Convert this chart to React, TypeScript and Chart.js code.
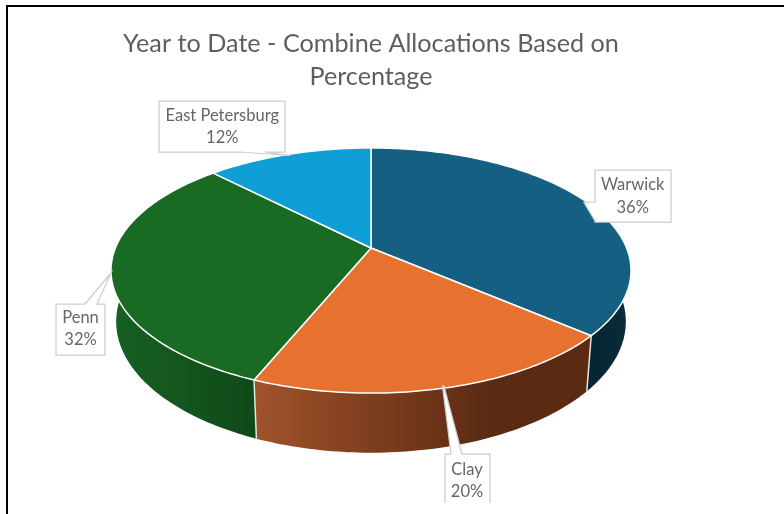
import React, { useEffect, useRef } from "react";
import { Chart, registerables } from "chart.js";

Chart.register(...registerables);

// ---- data ----
const titleLines = ["Year to Date - Combine Allocations Based on", "Percentage"];
const categories = ["Warwick", "Clay", "Penn", "East Petersburg"];
const percentages = [36.3, 19.9, 31.5, 12.3];

// ---- styles ----
const topColors = ["#156082", "#E7722F", "#196B24", "#0F9ED5"];
const wallFills = [
  { x0: 580, x1: 630, from: "#07222F", to: "#0A2C3D" },
  { x0: 256, x1: 490, from: "#A0522A", to: "#5B2A13" },
  { x0: 113, x1: 256, from: "#176024", to: "#0F4A19" },
  { x0: 0, x1: 784, from: "#0A6A90", to: "#0A6A90" },
];
const labelShapes = [
  {
    closed: true,
    points: [[595, 170], [671, 170], [671, 222], [595, 222], [595, 221], [584, 202.5], [595, 202]],
    cx: 632.7, y1: 185, y2: 207.7,
  },
  {
    closed: false,
    points: [[445, 503], [445, 454], [451, 454], [442.5, 386], [444, 386], [462, 454], [490, 454], [490, 503]],
    cx: 467, y1: 469.5, y2: 491.5,
  },
  {
    closed: true,
    points: [[56, 304], [85, 304], [111, 273], [97, 304], [105, 304], [105, 355], [56, 355]],
    cx: 80.5, y1: 318, y2: 340,
  },
  {
    closed: true,
    points: [[159, 101], [285, 101], [285, 152], [265, 152], [290, 155.5], [240, 152], [159, 152]],
    cx: 222.3, y1: 116, y2: 138,
  },
];

// perspective used to lay the library's arc angles onto the tilted disc
const DISC_R = 255.6;
const DISC_A = 118.4;
const DISC_K = -0.1837;
const WALL_SX = 0.98;
const WALL_SY = 1.07;
const WALL_D = 49.5;

function discOffset(angle: number) {
  const phi = angle + Math.PI / 2;
  const x = Math.sin(phi);
  const y = -Math.cos(phi);
  const d = 1 + DISC_K * y;
  return { x: (DISC_R * x) / d, y: (DISC_A * y) / d };
}

function samples(start: number, end: number) {
  const n = Math.max(8, Math.ceil(((end - start) * 180) / Math.PI));
  const out: number[] = [];
  for (let i = 0; i <= n; i++) out.push(start + ((end - start) * i) / n);
  return out;
}

const pie3dPlugin = {
  id: "pie3d",
  beforeDatasetsDraw(chart: any) {
    const ctx = chart.ctx as CanvasRenderingContext2D;
    const arcs = chart.getDatasetMeta(0).data as any[];
    ctx.save();

    // outer frame
    ctx.fillStyle = "#000";
    ctx.fillRect(6, 5, 778, 2);
    ctx.fillRect(6, 5, 2, 509);

    // side walls
    arcs.forEach((arc, i) => {
      const { x: vx, y: vy, startAngle, endAngle } = arc;
      const angles = samples(startAngle, endAngle);
      ctx.beginPath();
      angles.forEach((a, k) => {
        const o = discOffset(a);
        if (k === 0) ctx.moveTo(vx + o.x, vy + o.y);
        else ctx.lineTo(vx + o.x, vy + o.y);
      });
      [...angles].reverse().forEach((a) => {
        const o = discOffset(a);
        ctx.lineTo(vx + o.x * WALL_SX, vy + o.y * WALL_SY + WALL_D);
      });
      ctx.closePath();
      const f = wallFills[i];
      const g = ctx.createLinearGradient(f.x0, 0, f.x1, 0);
      g.addColorStop(0, f.from);
      g.addColorStop(1, f.to);
      ctx.fillStyle = g;
      ctx.fill();
    });
    // seams between the walls
    arcs.forEach((arc) => {
      const o = discOffset(arc.startAngle);
      ctx.beginPath();
      ctx.moveTo(arc.x + o.x, arc.y + o.y);
      ctx.lineTo(arc.x + o.x * WALL_SX, arc.y + o.y * WALL_SY + WALL_D);
      ctx.strokeStyle = "#E4E4E4";
      ctx.lineWidth = 1.5;
      ctx.stroke();
    });

    // top faces
    arcs.forEach((arc) => {
      const { x: vx, y: vy, startAngle, endAngle } = arc;
      ctx.beginPath();
      ctx.moveTo(vx, vy);
      samples(startAngle, endAngle).forEach((a) => {
        const o = discOffset(a);
        ctx.lineTo(vx + o.x, vy + o.y);
      });
      ctx.closePath();
      ctx.fillStyle = arc.options.backgroundColor;
      ctx.fill();
      ctx.strokeStyle = "#fff";
      ctx.lineWidth = 1.5;
      ctx.lineJoin = "round";
      ctx.stroke();
    });

    // data labels with callouts
    const labels = chart.data.labels as string[];
    const values = chart.data.datasets[0].data as number[];
    labelShapes.forEach((s, i) => {
      ctx.beginPath();
      s.points.forEach((p, k) => (k === 0 ? ctx.moveTo(p[0], p[1]) : ctx.lineTo(p[0], p[1])));
      if (s.closed) ctx.closePath();
      ctx.fillStyle = "#fff";
      ctx.fill();
      ctx.strokeStyle = "#CDCDCD";
      ctx.lineWidth = 1.25;
      ctx.lineJoin = "miter";
      ctx.stroke();
      ctx.fillStyle = "#666666";
      ctx.font = '16.5px Lato, "Open Sans", sans-serif';
      ctx.textAlign = "center";
      ctx.textBaseline = "middle";
      ctx.fillText(labels[i], s.cx, s.y1);
      ctx.fillText(`${Math.round(values[i])}%`, s.cx, s.y2);
    });

    ctx.restore();
    return false;
  },
};

export default function App() {
  const ref = useRef<HTMLCanvasElement | null>(null);

  useEffect(() => {
    if (!ref.current) return;
    const chart = new Chart(ref.current, {
      type: "pie",
      data: {
        labels: categories,
        datasets: [{ data: percentages, backgroundColor: topColors, borderWidth: 0 }],
      },
      options: {
        responsive: false,
        animation: false,
        layout: { padding: { right: 42, bottom: 112 } },
        plugins: {
          legend: { display: false },
          tooltip: { enabled: false },
          title: {
            display: true,
            text: titleLines,
            color: "#5E5E5E",
            font: { family: 'Lato, "Open Sans", sans-serif', size: 25.2, weight: "normal", lineHeight: 1.31 },
            padding: { top: 27.5, bottom: 0.5 },
          },
        },
      },
      plugins: [pie3dPlugin],
    } as any);
    return () => chart.destroy();
  }, []);

  return (
    <div style={{ position: "absolute", left: 0, top: 0, width: 784, height: 514, background: "#fff", overflow: "hidden" }}>
      <canvas ref={ref} width={784} height={514} style={{ display: "block" }} />
    </div>
  );
}
